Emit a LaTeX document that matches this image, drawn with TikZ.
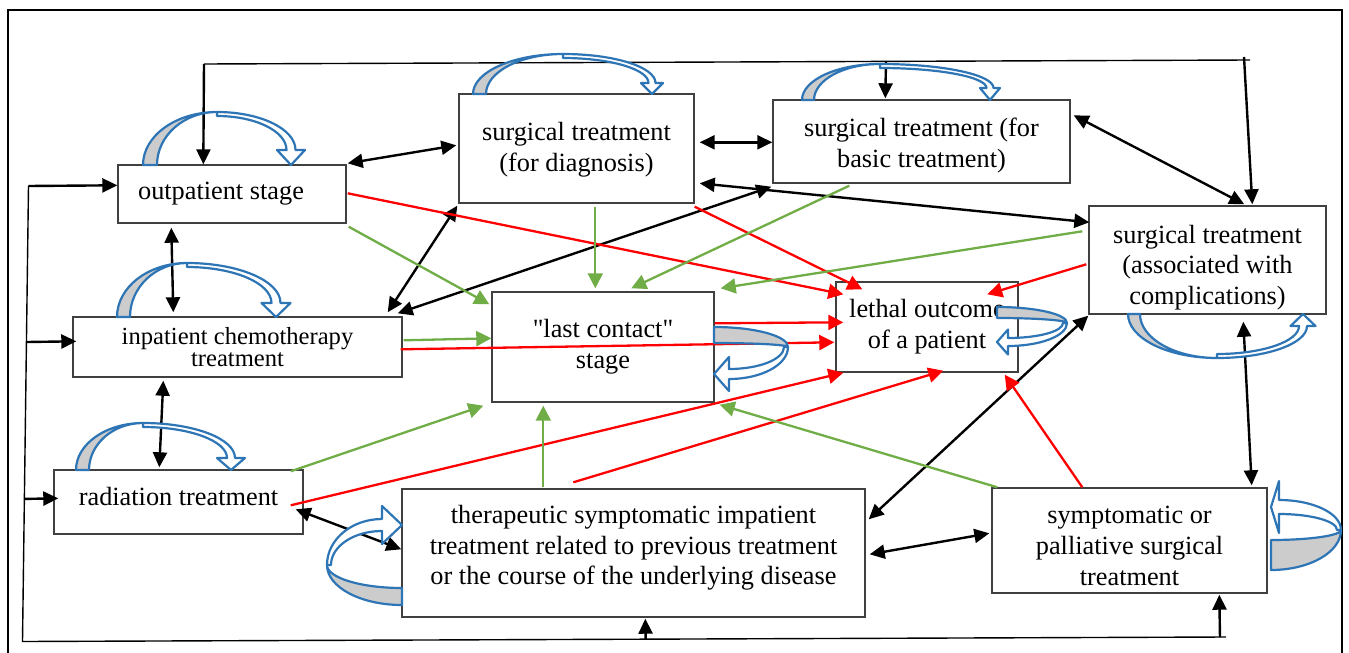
\documentclass[tikz,border=0pt]{standalone}
\usepackage{fontspec}
\setmainfont{Liberation Serif}[Ligatures=TeXOff]
\usetikzlibrary{arrows.meta,calc}
\definecolor{ublue}{RGB}{46,117,182}
\definecolor{grayfill}{RGB}{204,204,204}
\definecolor{ggreen}{RGB}{112,173,71}
\definecolor{rred}{RGB}{255,0,0}
\newcommand\myfs{\fontsize{26.3}{30.7}\selectfont}
\newcommand\upstrut[1]{\rule{0pt}{#1}}
% #1 cx, #2 H, #3 t0, #4 xt, #5 hl, #6 hw, #7 w
\newcommand\uturn[7]{%
  \path[uwhite] (#1,#2) arc[start angle=90,end angle=0,x radius={#4+#7/2-#1},y radius={#2-#5}]
     -- ({#4+#6},#5) -- (#4,0) -- ({#4-#6},#5) -- ({#4-#7/2},#5)
     arc[start angle=0,end angle=90,x radius={#4-#7/2-#1},y radius={#2-#5-4}] -- cycle;
  \path[ugr] (0,0) arc[start angle=180,end angle=90,x radius=#1,y radius=#2]
     arc[start angle=90,end angle=180,x radius={#1-#3},y radius=#2] -- cycle;
}
\tikzset{
 box/.style={draw=black!75,line width=1.4pt,fill=white,inner sep=0pt,align=center,font=\myfs},
 dbl/.style={line width=2.4pt,<->,>={Triangle[length=15pt,width=14pt]}},
 one/.style={line width=2.4pt,->,>={Triangle[length=15pt,width=14pt]}},
 fb/.style={line width=1.4pt},
 rarr/.style={rred,line width=2.3pt,->,>={Triangle[length=15pt,width=15pt]}},
 garr/.style={ggreen,line width=2.3pt,->,>={Triangle[length=15pt,width=15pt]}},
 uwhite/.style={draw=ublue,line width=2.2pt,fill=white,line join=round},
 ugr/.style={draw=ublue,line width=2.2pt,fill=grayfill,line join=round},
}
\begin{document}
\begin{tikzpicture}[x=1pt,y=-1pt]
\useasboundingbox (0,0) rectangle (1349,653);
\draw[line width=2.4pt] (8,653) -- (8,10) -- (1342,10) -- (1342,653);

% boxes
\node[box,minimum width=228pt,minimum height=58pt] (op) at (232,194) {outpatient stage\rule{22pt}{0pt}};
\node[box,minimum width=235pt,minimum height=109pt] (sd) at (576.5,148.5) {\upstrut{21pt}surgical treatment\\(for diagnosis)};
\node[box,minimum width=297pt,minimum height=83pt] (sb) at (921.5,141.5) {\upstrut{26.5pt}surgical treatment (for\\basic treatment)};
\node[box,minimum width=237pt,minimum height=108pt] (sc) at (1207.5,260) {\upstrut{33pt}surgical treatment\\(associated with\\complications)};
\node[box,minimum width=182pt,minimum height=90pt] (le) at (927,327) {lethal outcome\\of a patient};
\node[box,minimum width=222pt,minimum height=110pt] (lc) at (603,347) {"last contact"\\stage};
\node[box,minimum width=329pt,minimum height=60pt,font=\fontsize{24.6}{22}\selectfont] (ic) at (237.5,347) {inpatient chemotherapy\\treatment};
\node[box,minimum width=249pt,minimum height=64pt,text height=18pt,text depth=12pt] (ra) at (178.5,502) {radiation treatment};
\node[box,minimum width=463pt,minimum height=128pt,text depth=16pt] (th) at (633.5,553) {therapeutic symptomatic impatient\\treatment related to previous treatment\\or the course of the underlying disease};
\node[box,minimum width=275pt,minimum height=105pt] (sy) at (1129.5,540.5) {\upstrut{28.5pt}symptomatic or\\palliative surgical\\treatment};

% feedback lines
\coordinate (tL) at (204,64);
\coordinate (tR) at (1250,60);
\coordinate (tV) at (1244,57);
\coordinate (tB) at (886,61.4);
\draw[fb] (tR) -- (tL);
\draw[one] (tL) -- ($(op.north west)+(86,0)$);
\draw[one] (tB) -- ($(sb.north west)+(113,-1)$);
\draw[one] (tV) -- ($(sc.north west)+(164,-1)$);
\coordinate (lT) at (28.5,186);
\coordinate (lB) at (22.5,641.5);
\coordinate (bR) at (1226,637);
\draw[fb] (lT) -- (lB) -- (bR);
\coordinate (lM) at ($(lT)!0.3425!(lB)$);
\coordinate (lN) at ($(lT)!0.687!(lB)$);
\coordinate (bS) at ($(lB)!0.995!(bR)$);
\coordinate (bT) at ($(lB)!0.5178!(bR)$);
\draw[one] (lT) -- ($(op.north west)+(0,21)$);
\draw[one] (lM) -- ($(ic.north west)+(4,25)$);
\draw[one] (lN) -- ($(ra.north west)+(5,29)$);
\draw[one] (bS) -- ($(sy.south west)+(228,1)$);
\draw[one] (bT) -- ($(th.south west)+(244,1)$);

% black double arrows
\draw[dbl] ($(op.north east)+(1,-1)$) -- ($(sd.north west)+(-2,52)$);
\draw[dbl] ($(op.south west)+(54,4)$) -- ($(ic.north west)+(101,-4)$);
\draw[dbl] ($(sd.north east)+(5,49)$) -- ($(sb.north west)+(0,43)$);
\draw[dbl] ($(sb.north east)+(3,16)$) -- ($(sc.north west)+(156,-1)$);
\draw[dbl] ($(sd.north east)+(5,90)$) -- ($(sc.north west)+(1,17)$);
\draw[dbl] ($(sd.south west)+(-1,2)$) -- ($(ic.north east)+(-15,-4)$);
\draw[dbl] ($(sb.south west)+(-1,3)$) -- ($(ic.north east)+(-5,-3)$);
\draw[dbl] ($(ic.south west)+(91,3)$) -- ($(ra.north west)+(106,-2)$);
\draw[dbl] ($(ra.north east)+(-8,40)$) -- ($(th.north west)+(0,61)$);
\draw[dbl] ($(th.north east)+(3,31)$) -- ($(sc.south west)+(0,1)$);
\draw[dbl] ($(th.north east)+(4,66)$) -- ($(sy.north west)+(-2,46)$);
\draw[dbl] ($(sc.south west)+(155,7)$) -- ($(sy.north east)+(-16,-2)$);

% red arrows
\draw[rarr] ($(op.north east)+(1,29)$) -- ($(le.north west)+(8,13)$);
\draw[rarr] ($(sd.south east)+(0,3)$) -- ($(le.north west)+(27,8)$);
\draw[rarr] ($(sc.north west)+(-2,59)$) -- ($(le.north west)+(152,13)$);
\draw[rarr] ($(lc.north east)+(0,32)$) -- ($(le.north west)+(8,41)$);
\draw[rarr] ($(ic.north east)+(-2,33)$) -- ($(le.north west)+(-1,61)$);
\draw[rarr] ($(ra.north east)+(-13,36)$) -- ($(le.south west)+(8,0)$);
\draw[rarr] ($(th.north west)+(172,-6)$) -- ($(le.south west)+(108,-2)$);
\draw[rarr] ($(sy.north west)+(91,0)$) -- ($(le.south east)+(-14,2)$);

% green arrows
\draw[garr] ($(op.south east)+(2,3)$) -- ($(lc.north west)+(-2,13)$);
\draw[garr] ($(sd.south west)+(137,3)$) -- ($(lc.north west)+(104,-3)$);
\draw[garr] ($(sb.south west)+(77,2)$) -- ($(lc.north west)+(140,-3)$);
\draw[garr] ($(sc.north west)+(-6,26)$) -- ($(lc.north east)+(6,-3)$);
\draw[garr] ($(ic.north east)+(1,24)$) -- ($(lc.north west)+(0,47)$);
\draw[garr] ($(ra.north east)+(-13,2)$) -- ($(lc.south west)+(-8,3)$);
\draw[garr] ($(th.north west)+(142,-1)$) -- ($(lc.south west)+(52,3)$);
\draw[garr] ($(sy.north west)+(6,0)$) -- ($(lc.south east)+(5,2)$);

% blue curved arrows
\begin{scope}[shift={(143,165)},x=1pt,y=1pt] \uturn{74}{53}{14}{148}{15}{14}{9} \end{scope}
\begin{scope}[shift={(117,317)},x=1pt,y=1pt] \uturn{70}{54}{13}{159}{14}{14.5}{9} \end{scope}
\begin{scope}[shift={(76,470)},x=1pt,y=1pt] \uturn{67}{47}{13}{155}{12}{14}{8} \end{scope}
\begin{scope}[shift={(473,94)},x=1pt,y=1pt] \uturn{90}{40}{13}{179}{11}{11}{7} \end{scope}
\begin{scope}[shift={(802,100)},x=1pt,y=1pt] \uturn{78}{36}{12}{188}{12}{10}{7} \end{scope}
\begin{scope}[shift={(1128,314)},x=1pt,y=-1pt] \uturn{89}{44}{12}{175}{12}{12.5}{8} \end{scope}
\begin{scope}[shift={(714,327)},x={(0pt,-1pt)},y={(1pt,0pt)}] \uturn{20}{74}{16}{47}{15}{17}{10} \end{scope}
\begin{scope}[shift={(997,307)},x={(0pt,-1pt)},y={(1pt,0pt)}] \uturn{16}{70}{11}{35}{11}{12.5}{8} \end{scope}
\begin{scope}[shift={(1271,570)},x={(0pt,1pt)},y={(1pt,0pt)}] \uturn{40}{70}{30}{63}{8}{26}{14} \end{scope}
\begin{scope}[shift={(402,605)},x={(0pt,1pt)},y={(-1pt,0pt)}] \uturn{40}{75}{17}{80}{20}{19}{12} \end{scope}
\end{tikzpicture}
\end{document}
